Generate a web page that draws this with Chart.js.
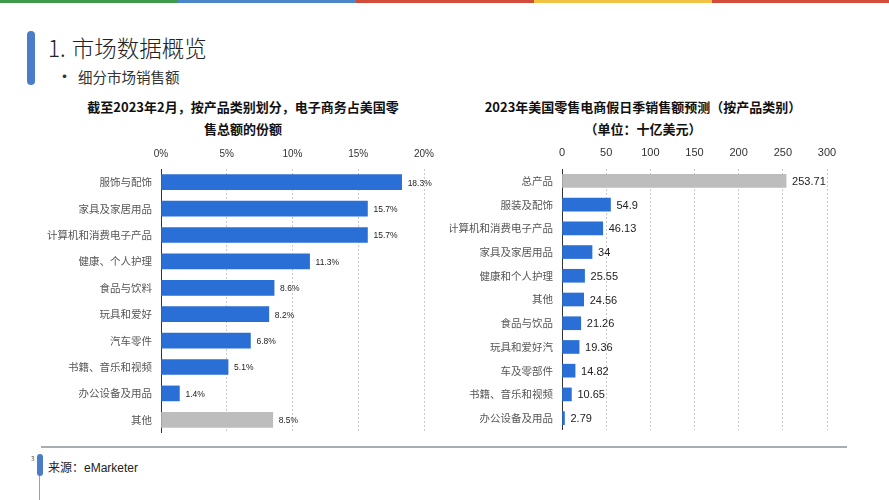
<!DOCTYPE html>
<html>
<head>
<meta charset="utf-8">
<script src="https://cdn.jsdelivr.net/npm/chart.js@4.4.1/dist/chart.umd.min.js"></script>
<style>
  body { margin: 0; width: 889px; height: 500px; background: #fff; position: relative; overflow: hidden;
         font-family: "Noto Sans CJK SC", "Liberation Sans", sans-serif; color: #222; }
  .strip { position: absolute; top: 0; height: 3px; width: 178px; }
  .abs { position: absolute; }
  .ttl { font-size: 13px; font-weight: bold; text-align: center; line-height: 22px; color: #111; }
</style>
</head>
<body>
<div class="strip" style="left:0;background:#3f9a4b"></div>
<div class="strip" style="left:178px;background:#4b86c9"></div>
<div class="strip" style="left:356px;background:#d24b3b"></div>
<div class="strip" style="left:534px;background:#f1c243"></div>
<div class="strip" style="left:712px;background:#d24b3b"></div>

<div class="abs" style="left:27px;top:31px;width:8px;height:54px;background:#4a7cc8;border-radius:4px"></div>
<div class="abs" style="left:48px;top:30px;font-size:22.5px;font-weight:300;line-height:34px;color:#222"><span style="margin-right:6px">1.</span>市场数据概览</div>
<div class="abs" style="left:56px;top:64px;font-size:17px;line-height:24px;color:#333">•</div>
<div class="abs" style="left:78px;top:66px;font-size:14.5px;line-height:22px;color:#333">细分市场销售额</div>

<div class="abs ttl" style="left:80px;top:96px;width:326px">截至2023年2月，按产品类别划分，电子商务占美国零<br>售总额的份额</div>
<div class="abs ttl" style="left:480px;top:96px;width:326px">2023年美国零售电商假日季销售额预测（按产品类别）<br>（单位：十亿美元）</div>

<div class="abs" style="left:20px;top:140px;width:425px;height:293px"><canvas id="left"></canvas></div>
<div class="abs" style="left:450px;top:140px;width:420px;height:290px"><canvas id="right"></canvas></div>

<div class="abs" style="left:41px;top:446px;width:806px;height:2px;background:#a9adb0"></div>
<div class="abs" style="left:39px;top:460px;width:1px;height:40px;background:#9aa0a6"></div>
<div class="abs" style="left:37px;top:454px;width:6px;height:22px;background:#4a7cc8;border-radius:3px"></div>
<div class="abs" style="left:31px;top:454px;font-size:6px;color:#333">3</div>
<div class="abs" style="left:48px;top:458px;font-size:12px;line-height:18px;color:#222">来源：<span style="font-family:'Liberation Sans',sans-serif">eMarketer</span></div>

<script>
// 左图：电子商务占美国零售总额的份额（%）
const shareCategories = ['服饰与配饰', '家具及家居用品', '计算机和消费电子产品', '健康、个人护理', '食品与饮料',
  '玩具和爱好', '汽车零件', '书籍、音乐和视频', '办公设备及用品', '其他'];
const shareValues = [18.3, 15.7, 15.7, 11.3, 8.6, 8.2, 6.8, 5.1, 1.4, 8.5];
const shareTicks = [0, 5, 10, 15, 20];

// 右图：2023年假日季销售额预测（十亿美元）
const salesCategories = ['总产品', '服装及配饰', '计算机和消费电子产品', '家具及家居用品', '健康和个人护理', '其他',
  '食品与饮品', '玩具和爱好汽', '车及零部件', '书籍、音乐和视频', '办公设备及用品'];
const salesValues = [253.71, 54.9, 46.13, 34, 25.55, 24.56, 21.26, 19.36, 14.82, 10.65, 2.79];
const salesTicks = [0, 50, 100, 150, 200, 250, 300];

const BLUE = '#2a6fd6';
const GREY = '#bdbdbd';

Chart.defaults.font.family = '"Liberation Sans", "Noto Sans CJK SC", sans-serif';
Chart.defaults.animation = false;

// 在柱子末端写数值
const valueLabels = {
  id: 'valueLabels',
  afterDatasetsDraw(chart, args, opts) {
    const ctx = chart.ctx;
    const meta = chart.getDatasetMeta(0);
    const data = chart.data.datasets[0].data;
    ctx.save();
    ctx.font = opts.size + 'px "Liberation Sans", sans-serif';
    ctx.fillStyle = '#222';
    ctx.textBaseline = 'middle';
    ctx.textAlign = 'left';
    meta.data.forEach((bar, i) => {
      ctx.fillText(opts.format(data[i]), bar.x + 6, bar.y + 1);
    });
    ctx.restore();
  }
};

function makeChart(id, cats, vals, colors, ticks, opt) {
  return new Chart(document.getElementById(id), {
    type: 'bar',
    data: {
      labels: cats,
      datasets: [{ data: vals, backgroundColor: colors, barThickness: opt.barThickness, borderWidth: 0 }]
    },
    plugins: [valueLabels],
    options: {
      indexAxis: 'y',
      responsive: true,
      maintainAspectRatio: false,
      layout: { padding: { right: opt.padRight, top: 0, bottom: 0, left: 0 } },
      plugins: {
        legend: { display: false },
        tooltip: { enabled: false },
        valueLabels: { size: opt.labelSize, format: opt.format }
      },
      scales: {
        x: {
          position: 'top',
          min: ticks[0],
          max: ticks[ticks.length - 1],
          afterBuildTicks: (scale) => { scale.ticks = ticks.map(v => ({ value: v })); },
          afterFit: (scale) => { scale.height = 29; },
          ticks: { padding: 9, color: '#333', font: { size: opt.tickSize }, callback: opt.tickFormat },
          grid: { color: '#c8c8c8', drawTicks: false, lineWidth: 1 },
          border: { display: false, dash: [2, 2] }
        },
        y: {
          afterFit: (scale) => {
            scale.width = opt.axisWidth;
            scale.paddingTop = 0;
            scale.paddingBottom = 0;
          },
          grid: { display: false, drawTicks: false },
          border: { display: true, color: '#333', width: 1 },
          ticks: { padding: 9, color: '#555', font: { size: 10.5, family: '"Noto Sans CJK SC", sans-serif' } }
        }
      }
    }
  });
}

makeChart('left', shareCategories, shareValues,
  shareCategories.map((c, i) => i === shareCategories.length - 1 ? GREY : BLUE), shareTicks,
  { axisWidth: 141, padRight: 21, barThickness: 15, labelSize: 8.5, tickSize: 10,
    format: v => v.toFixed(1) + '%', tickFormat: v => v + '%' });

makeChart('right', salesCategories, salesValues,
  salesCategories.map((c, i) => i === 0 ? GREY : BLUE), salesTicks,
  { axisWidth: 112, padRight: 43, barThickness: 13, labelSize: 11, tickSize: 11,
    format: v => String(v), tickFormat: v => v });
</script>
</body>
</html>
